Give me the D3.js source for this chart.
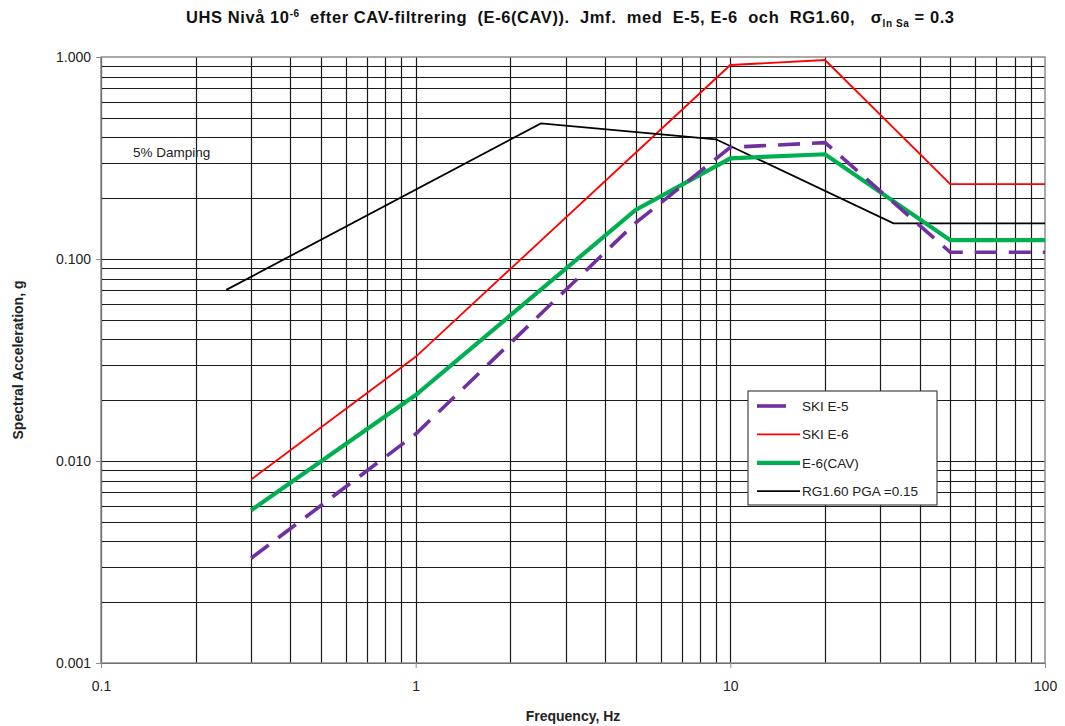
<!DOCTYPE html>
<html>
<head>
<meta charset="utf-8">
<script src="https://cdn.jsdelivr.net/npm/d3@7"></script>
<style>
  body { margin: 0; background: #fff; }
  svg { font-family: "Liberation Sans", Arial, sans-serif; }
  .title { white-space: pre; }
</style>
</head>
<body>
<div id="chart"></div>
<script>
// data
var freqE5 = [0.3, 1, 5, 10, 20, 50, 100];
var accE5 = [0.0033, 0.0136, 0.151, 0.357, 0.377, 0.108, 0.108];

var freqE6 = [0.3, 1, 10, 20, 50, 100];
var accE6 = [0.0081, 0.0328, 0.913, 0.966, 0.235, 0.235];

var freqCAV = [0.3, 1, 5, 10, 20, 50, 100];
var accCAV = [0.0057, 0.0212, 0.175, 0.315, 0.33, 0.124, 0.124];

var freqRG = [0.25, 2.5, 9, 33, 100];
var accRG = [0.0703, 0.4695, 0.3915, 0.15, 0.15];

var xTicks = [0.1, 1, 10, 100];
var xTickLabels = ["0.1", "1", "10", "100"];
var yTicks = [0.001, 0.01, 0.1, 1];
var yTickLabels = ["0.001", "0.010", "0.100", "1.000"];

var seriesNames = ["SKI E-5", "SKI E-6", "E-6(CAV)", "RG1.60 PGA =0.15"];

var width = 1065;
var height = 726;
var plotLeft = 101;
var plotRight = 1045;
var plotTop = 57;
var plotBottom = 663;

var svg = d3.select("#chart")
    .append("svg")
    .attr("width", width)
    .attr("height", height);

var x = d3.scaleLog().domain([0.1, 100]).range([plotLeft, plotRight]);
var y = d3.scaleLog().domain([0.001, 1]).range([plotBottom, plotTop]);

// grid lines (1..9 per decade)
var gridVals = [];
[0.001, 0.01, 0.1].forEach(function(d) {
    for (var k = 1; k <= 9; k++) gridVals.push(d * k);
});
var gridValsX = [];
[0.1, 1, 10].forEach(function(d) {
    for (var k = 1; k <= 9; k++) gridValsX.push(d * k);
});

var grid = svg.append("g").attr("class", "grid");
grid.selectAll(".hgrid")
    .data(gridVals)
    .enter().append("line")
    .attr("x1", plotLeft).attr("x2", plotRight)
    .attr("y1", function(d) { return Math.round(y(d)) + 0.5; })
    .attr("y2", function(d) { return Math.round(y(d)) + 0.5; })
    .style("stroke", "#1a1a1a")
    .style("stroke-width", 1.2);

grid.selectAll(".vgrid")
    .data(gridValsX)
    .enter().append("line")
    .attr("y1", plotTop).attr("y2", plotBottom)
    .attr("x1", function(d) { return Math.round(x(d)) + 0.5; })
    .attr("x2", function(d) { return Math.round(x(d)) + 0.5; })
    .style("stroke", "#1a1a1a")
    .style("stroke-width", 1.2);

// plot border
svg.append("rect")
    .attr("x", plotLeft).attr("y", plotTop)
    .attr("width", plotRight - plotLeft).attr("height", plotBottom - plotTop)
    .style("fill", "none")
    .style("stroke", "#8c8c8c")
    .style("stroke-width", 1.5);

// axes
var xAxis = d3.axisBottom(x)
    .tickValues(xTicks)
    .tickSize(5)
    .tickFormat(function(d, i) { return xTickLabels[i]; });
var gx = svg.append("g")
    .attr("transform", "translate(0," + plotBottom + ")")
    .call(xAxis);
gx.select(".domain").remove();
gx.selectAll("line").style("stroke", "#8c8c8c");
gx.selectAll("text")
    .attr("dy", "1.45em")
    .style("font-size", "14px")
    .style("fill", "#222");

var yAxis = d3.axisLeft(y)
    .tickValues(yTicks)
    .tickSize(5)
    .tickFormat(function(d, i) { return yTickLabels[i]; });
var gy = svg.append("g")
    .attr("transform", "translate(" + plotLeft + ",0)")
    .call(yAxis);
gy.select(".domain").remove();
gy.selectAll("line").style("stroke", "#8c8c8c");
gy.selectAll("text")
    .attr("x", -10)
    .style("font-size", "14px")
    .style("fill", "#222");

// axis titles
svg.append("text")
    .attr("x", (plotLeft + plotRight) / 2)
    .attr("y", 721)
    .attr("text-anchor", "middle")
    .style("font-size", "14px")
    .style("font-weight", "bold")
    .style("fill", "#222")
    .text("Frequency, Hz");

svg.append("text")
    .attr("transform", "translate(23," + (plotTop + plotBottom) / 2 + ") rotate(-90)")
    .attr("text-anchor", "middle")
    .style("font-size", "14px")
    .style("font-weight", "bold")
    .style("fill", "#222")
    .text("Spectral Acceleration, g");

// title (stretched to the reference width)
var title = svg.append("text")
    .attr("class", "title")
    .attr("x", 186)
    .attr("y", 23)
    .attr("textLength", 768)
    .attr("lengthAdjust", "spacing")
    .style("font-size", "16.5px")
    .style("font-weight", "bold")
    .style("fill", "#111");
title.append("tspan").text("UHS Nivå 10");
title.append("tspan").attr("dy", -6).style("font-size", "10px").text("-6");
title.append("tspan").attr("dy", 6).text("  efter CAV-filtrering  (E-6(CAV)).  Jmf.  med  E-5, E-6  och  RG1.60,   σ");
title.append("tspan").attr("dy", 4).style("font-size", "10px").text("ln Sa");
title.append("tspan").attr("dy", -4).text(" = 0.3");

svg.append("text")
    .attr("x", 133)
    .attr("y", 157)
    .style("font-size", "13.5px")
    .style("fill", "#222")
    .text("5% Damping");

// curves
var line = d3.line()
    .x(function(d) { return x(d[0]); })
    .y(function(d) { return y(d[1]); });

function pairs(fs, vs) {
    return fs.map(function(f, i) { return [f, vs[i]]; });
}

var series = [
    { name: seriesNames[1], data: pairs(freqE6, accE6), color: "#ff0000", w: 1.8, dash: null },
    { name: seriesNames[3], data: pairs(freqRG, accRG), color: "#000000", w: 1.8, dash: null },
    { name: seriesNames[2], data: pairs(freqCAV, accCAV), color: "#00b050", w: 4.2, dash: null },
    { name: seriesNames[0], data: pairs(freqE5, accE5), color: "#7030a0", w: 3.6, dash: "22,12" }
];

svg.selectAll(".curve")
    .data(series)
    .enter().append("path")
    .attr("class", "curve")
    .attr("d", function(d) { return line(d.data); })
    .style("fill", "none")
    .style("stroke", function(d) { return d.color; })
    .style("stroke-width", function(d) { return d.w; })
    .style("stroke-dasharray", function(d) { return d.dash; })
    .style("stroke-linejoin", "miter");

// legend
var legend = svg.append("g").attr("transform", "translate(748,391)");
legend.append("rect")
    .attr("width", 189).attr("height", 114)
    .style("fill", "#fff")
    .style("stroke", "#444")
    .style("stroke-width", 1.2);

var legendItems = [
    { name: seriesNames[0], color: "#7030a0", w: 3.6, len: 29 },
    { name: seriesNames[1], color: "#ff0000", w: 1.8, len: 43 },
    { name: seriesNames[2], color: "#00b050", w: 4.2, len: 43 },
    { name: seriesNames[3], color: "#000000", w: 1.8, len: 43 }
];

var li = legend.selectAll(".li")
    .data(legendItems)
    .enter().append("g")
    .attr("transform", function(d, i) { return "translate(0," + (15 + i * 28.4) + ")"; });
li.append("line")
    .attr("x1", 9)
    .attr("x2", function(d) { return 9 + d.len; })
    .style("stroke", function(d) { return d.color; })
    .style("stroke-width", function(d) { return d.w; });
li.append("text")
    .attr("x", 54)
    .attr("dy", "0.35em")
    .style("font-size", "13.5px")
    .style("fill", "#222")
    .text(function(d) { return d.name; });
</script>
</body>
</html>
